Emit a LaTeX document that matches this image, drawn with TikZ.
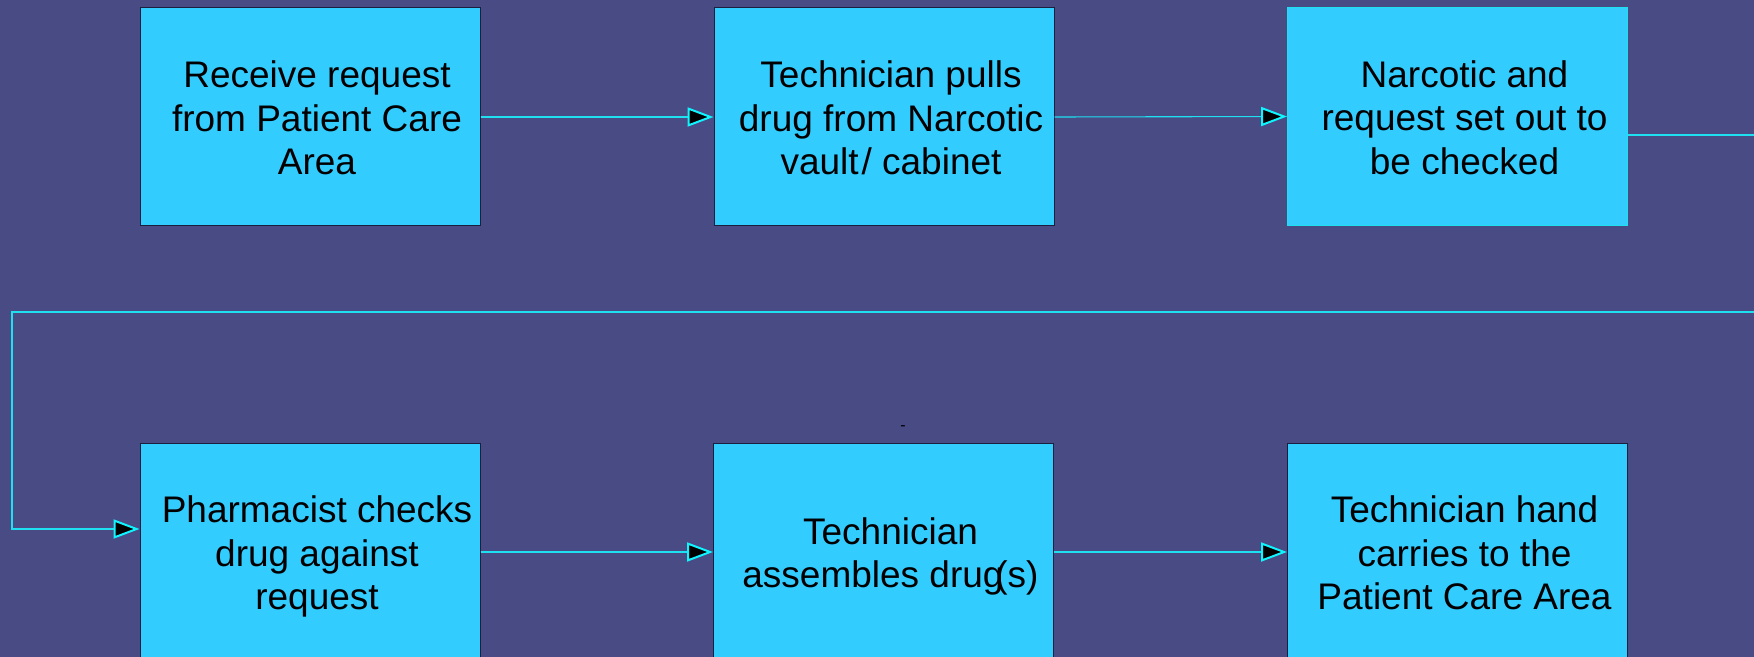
\documentclass[tikz,border=0pt]{standalone}
\usepackage{fontspec}
\setmainfont{Liberation Sans}
\usetikzlibrary{arrows.meta}
\definecolor{bgpurple}{HTML}{484B84}
\definecolor{boxfill}{HTML}{33CCFF}
\definecolor{boxedge}{HTML}{1C1E40}
\definecolor{linkcyan}{HTML}{1FE0F0}
\definecolor{tipcyan}{HTML}{10F4FF}
\begin{document}
\begin{tikzpicture}[x=0.5pt,y=-0.5pt,
  stepbox/.style={draw=boxedge, line width=0.5pt, fill=boxfill,
    minimum width=170pt, minimum height=109pt, inner sep=0pt},
  steptext/.style={inner sep=0pt, align=center, text=black,
    font=\fontsize{18.5pt}{21.7pt}\selectfont},
  link/.style={draw=linkcyan, line width=0.55pt,
    -{Triangle[length=13pt,width=9.5pt,color=tipcyan,fill=black,line width=1pt]}}]
  % page and background
  \useasboundingbox (0,0) rectangle (1754,657);
  \fill[bgpurple] (0,0) rectangle (1754,657);
  \clip (0,0) rectangle (1754,657);

  % process steps, top row
  \node[stepbox] (b1) at (310,117) {};
  \node[stepbox] (b2) at (884,117) {};
  \node[stepbox, draw=linkcyan] (b3) at (1457.5,116.5) {};
  % process steps, bottom row
  \node[stepbox] (b4) at (310,552) {};
  \node[stepbox] (b5) at (883.5,552) {};
  \node[stepbox] (b6) at (1457.5,552) {};

  % step texts
  \node[steptext] (t1) at ([shift={(7,1)}]b1.center) {Receive request\\from Patient Care\\Area};
  \node[steptext] (t2) at ([shift={(7,1)}]b2.center) {Technician pulls\\drug from Narcotic\\vault\kern0.08em/ cabinet};
  \node[steptext] (t3) at ([shift={(7,1)}]b3.center) {Narcotic and\\request set out to\\be checked};
  \node[steptext] (t4) at ([shift={(7,4.5)}]b4.center) {Pharmacist checks\\drug against\\request};
  \node[steptext] (t5) at ([shift={(7,4.5)}]b5.center) {Technician\\assembles drug\kern-0.22em(s)};
  \node[steptext] (t6) at ([shift={(7,1)}]b6.center) {Technician hand\\carries to the\\Patient Care Area};

  % stray mark above the middle step
  \node[inner sep=0pt, font=\fontsize{8pt}{9pt}\selectfont] (mark) at (903,428) {-};

  % connectors along the rows
  \draw[link] (b1.east) -- (b2.west);
  \draw[link] (b2.east) -- (b3.west);
  \draw[link] (b4.east) -- (b5.west);
  \draw[link] (b5.east) -- (b6.west);

  % return line from the top row to the bottom row
  \coordinate (r1) at (1780,135);
  \coordinate (r2) at (1780,312);
  \coordinate (l1) at (12,312);
  \coordinate (l2) at (12,529);
  \draw[link] (b3.east |- r1) -- (r1) -- (r2) -- (l1) -- (l2) -- (b4.west |- l2);
\end{tikzpicture}
\end{document}
